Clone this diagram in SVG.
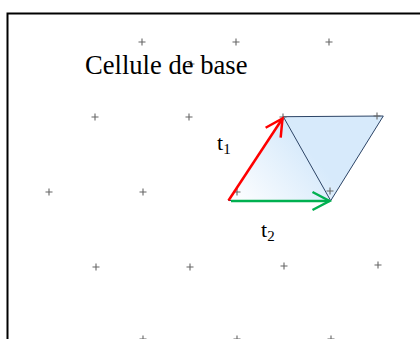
<svg xmlns="http://www.w3.org/2000/svg" width="420" height="339" viewBox="0 0 420 339">
<defs>
<style>
.p{stroke:#666;stroke-width:1.1;fill:none}
.lbl{font-family:"Liberation Serif","Times New Roman",serif;fill:#000}
.edge{stroke:#2c4466;stroke-width:1}
</style>
<linearGradient id="g" gradientUnits="userSpaceOnUse" x1="228" y1="200" x2="300" y2="140">
<stop offset="0" stop-color="#ffffff"/>
<stop offset="1" stop-color="#d7eafb"/>
</linearGradient>
<marker id="mr" viewBox="-10 -6 12 12" refX="0" refY="0" markerWidth="12" markerHeight="12" markerUnits="userSpaceOnUse" orient="auto" overflow="visible">
<path d="M-17,-9 L0,0 L-17,9" fill="none" stroke="#ff0000" stroke-width="2.5"/>
</marker>
<marker id="mg" viewBox="-10 -6 12 12" refX="0" refY="0" markerWidth="12" markerHeight="12" markerUnits="userSpaceOnUse" orient="auto" overflow="visible">
<path d="M-17,-9 L0,0 L-17,9" fill="none" stroke="#00b050" stroke-width="2.5"/>
</marker>
</defs>
<rect width="420" height="339" fill="#fff"/>
<path d="M7.5,339 V13.5 H420" fill="none" stroke="#000" stroke-width="2"/>
<g id="cell">
<path d="M228.5,200.5 L283.3,116.7 L383.3,116 L330.7,200.7 Z" fill="url(#g)" class="edge"/>
<path d="M283.3,116.7 L330.7,200.7" class="edge" fill="none"/>
</g>
<g id="lattice">
<path class="p" d="M138.5,42h7M142,38.5v7 M232.5,42h7M236,38.5v7 M325.5,42h7M329,38.5v7
M187.5,64h7M191,60.5v7
M91.5,117h7M95,113.5v7 M185.5,117h7M189,113.5v7 M279.5,117h7M283,113.5v7 M373.5,116h7M377,112.5v7
M45.5,192h7M49,188.5v7 M139.5,192h7M143,188.5v7 M233.5,192h7M237,188.5v7 M326.5,191h7M330,187.5v7
M92.5,267h7M96,263.5v7 M186.5,267h7M190,263.5v7 M280.5,266h7M284,262.5v7 M374.5,265h7M378,261.5v7
M139.5,339h7M143,335.5v7 M233.5,339h7M237,335.5v7 M327.5,339h7M331,335.5v7"/>
</g>
<g id="connectors">
<line x1="228.5" y1="200.5" x2="282.5" y2="118.5" stroke="#ff0000" stroke-width="2.5" marker-end="url(#mr)"/>
<line x1="231" y1="201" x2="329.5" y2="201" stroke="#00b050" stroke-width="2.5" marker-end="url(#mg)"/>
</g>
<g id="labels">
<text class="lbl" x="85" y="74" font-size="26.6">Cellule de base</text>
<text class="lbl" x="217" y="150" font-size="22">t<tspan font-size="15" dy="4">1</tspan></text>
<text class="lbl" x="261" y="237" font-size="22">t<tspan font-size="15" dy="4">2</tspan></text>
</g>
</svg>
